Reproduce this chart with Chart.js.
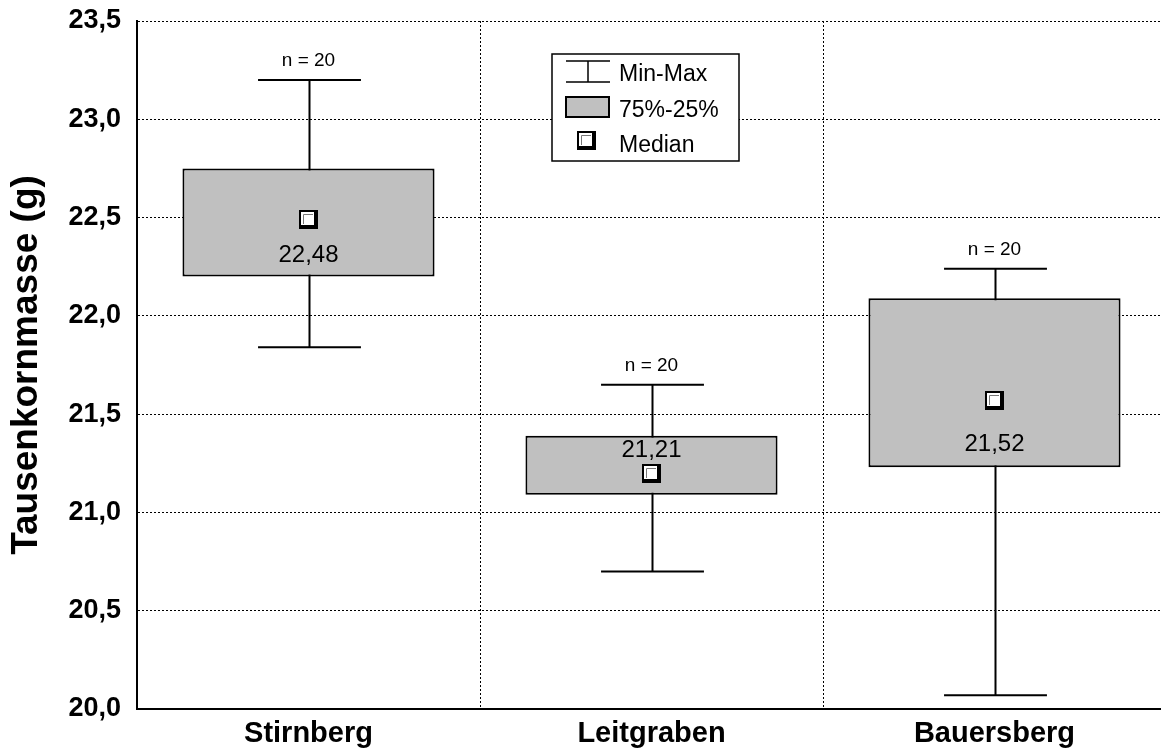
<!DOCTYPE html>
<html>
<head>
<meta charset="utf-8">
<script src="https://cdn.jsdelivr.net/npm/chart.js@4.4.1/dist/chart.umd.min.js"></script>
<style>
    html, body { margin: 0; padding: 0; background: #fff; overflow: hidden; }
    #wrap { position: absolute; left: 0; top: 0; width: 1180px; height: 753px; }
</style>
</head>
<body>
<div id="wrap"><canvas id="chart" width="1180" height="753"></canvas></div>
<script>
// Daten
const categories = ['Stirnberg', 'Leitgraben', 'Bauersberg'];
const minVals = [21.84, 20.70, 20.07];
const q1Vals = [22.20, 21.09, 21.23];
const medianVals = [22.49, 21.20, 21.57];
const q3Vals = [22.75, 21.39, 22.09];
const maxVals = [23.20, 21.65, 22.24];
const nLabels = ['n = 20', 'n = 20', 'n = 20'];
const medianLabels = ['22,48', '21,21', '21,52'];
const yMin = 20.0;
const yMax = 23.5;
const yStep = 0.5;

const FONT = '"Liberation Sans", Arial, sans-serif';

// Abstand des Median-Texts zum Marker (px)
const medianLabelDy = [36, -23, 44];

// Marker für den Median (Quadrat mit Schatten)
function drawMedianMarker(ctx, cx, cy) {
    const s = 19;
    const x0 = Math.round(cx - s / 2);
    const y0 = Math.round(cy - s / 2);
    ctx.save();
    ctx.fillStyle = '#000';
    ctx.fillRect(x0, y0, s, s);
    ctx.fillStyle = '#fff';
    ctx.fillRect(x0 + 2, y0 + 2, s - 6, s - 6);
    ctx.strokeStyle = '#777';
    ctx.lineWidth = 1;
    ctx.beginPath();
    ctx.moveTo(x0 + 4.5, y0 + s - 5);
    ctx.lineTo(x0 + 4.5, y0 + 4.5);
    ctx.lineTo(x0 + s - 5, y0 + 4.5);
    ctx.stroke();
    ctx.restore();
}

// Plugin: Whisker, Median, Beschriftungen und Legende
const boxPlugin = {
    id: 'boxPlugin',
    beforeDatasetsDraw(chart) {
        const ctx = chart.ctx;
        const xs = chart.scales.x;
        const ys = chart.scales.y;
        const catW = xs.getPixelForValue(1) - xs.getPixelForValue(0);
        ctx.save();
        ctx.strokeStyle = '#000';
        ctx.lineWidth = 2;
        categories.forEach((c, i) => {
            const cx = Math.round(xs.getPixelForValue(i)) + 0.5;
            const yMaxPx = ys.getPixelForValue(maxVals[i]);
            const yMinPx = ys.getPixelForValue(minVals[i]);
            ctx.beginPath();
            ctx.moveTo(cx, yMaxPx);
            ctx.lineTo(cx, yMinPx);
            ctx.moveTo(cx - catW * 0.15, yMaxPx);
            ctx.lineTo(cx + catW * 0.15, yMaxPx);
            ctx.moveTo(cx - catW * 0.15, yMinPx);
            ctx.lineTo(cx + catW * 0.15, yMinPx);
            ctx.stroke();
        });
        ctx.restore();
    },
    afterDatasetsDraw(chart) {
        const ctx = chart.ctx;
        const xs = chart.scales.x;
        const ys = chart.scales.y;
        ctx.save();
        ctx.fillStyle = '#000';
        ctx.textAlign = 'center';
        ctx.textBaseline = 'middle';
        categories.forEach((c, i) => {
            const cx = xs.getPixelForValue(i);
            const my = ys.getPixelForValue(medianVals[i]);
            drawMedianMarker(ctx, cx, my);
            ctx.font = '24px ' + FONT;
            ctx.fillText(medianLabels[i], cx, my + medianLabelDy[i]);
            ctx.font = '19px ' + FONT;
            ctx.fillText(nLabels[i], cx, ys.getPixelForValue(maxVals[i]) - 19);
        });
        ctx.restore();
    },
    afterDraw(chart) {
        // Legende innerhalb der Grafik
        const ctx = chart.ctx;
        ctx.save();
        ctx.fillStyle = '#fff';
        ctx.fillRect(552, 54, 187, 107);
        ctx.strokeStyle = '#000';
        ctx.lineWidth = 1.5;
        ctx.strokeRect(552, 54, 187, 107);

        ctx.lineWidth = 1.5;
        ctx.beginPath();
        ctx.moveTo(566, 61); ctx.lineTo(610, 61);
        ctx.moveTo(566, 82); ctx.lineTo(610, 82);
        ctx.moveTo(588, 61); ctx.lineTo(588, 82);
        ctx.stroke();

        ctx.fillStyle = '#c0c0c0';
        ctx.fillRect(566, 97, 43, 20);
        ctx.lineWidth = 2;
        ctx.strokeRect(566, 97, 43, 20);

        drawMedianMarker(ctx, 586.5, 140.5);

        ctx.fillStyle = '#000';
        ctx.font = '23px ' + FONT;
        ctx.textAlign = 'left';
        ctx.textBaseline = 'middle';
        ctx.fillText('Min-Max', 619, 75);
        ctx.fillText('75%-25%', 619, 111);
        ctx.fillText('Median', 619, 146);
        ctx.restore();
    }
};

new Chart(document.getElementById('chart').getContext('2d'), {
    type: 'bar',
    data: {
        labels: categories,
        datasets: [{
            label: '75%-25%',
            data: categories.map((c, i) => [q1Vals[i], q3Vals[i]]),
            backgroundColor: '#c0c0c0',
            borderColor: '#000',
            borderWidth: 2,
            borderSkipped: false,
            barPercentage: 0.735,
            categoryPercentage: 1.0
        }]
    },
    options: {
        responsive: false,
        animation: false,
        devicePixelRatio: 1,
        layout: { padding: { top: 21, right: 14, left: 0, bottom: 0 } },
        plugins: {
            legend: { display: false },
            tooltip: { enabled: false }
        },
        scales: {
            x: {
                offset: true,
                grid: {
                    offset: true,
                    drawTicks: false,
                    color: '#000',
                    lineWidth: 1
                },
                // dash gilt in v4 für die Gitterlinien, die Achse bleibt durchgezogen
                border: { display: true, color: '#000', width: 2, dash: [2, 2] },
                ticks: {
                    padding: 8,
                    color: '#000',
                    font: { family: FONT, size: 29, weight: 'bold' }
                },
                afterFit(scale) { scale.height = 44; }
            },
            y: {
                min: yMin,
                max: yMax,
                grid: {
                    drawTicks: false,
                    color: '#000',
                    lineWidth: 1
                },
                border: { display: true, color: '#000', width: 2, dash: [2, 2] },
                ticks: {
                    stepSize: yStep,
                    padding: 16,
                    color: '#000',
                    font: { family: FONT, size: 27, weight: 'bold' },
                    callback: v => v.toFixed(1).replace('.', ',')
                },
                title: {
                    display: true,
                    text: 'Tausenkornmasse (g)',
                    color: '#000',
                    padding: { top: 5, bottom: 0 },
                    font: { family: FONT, size: 37, weight: 'bold' }
                },
                afterFit(scale) {
                    scale.width = 137;
                    scale.paddingTop = 0;
                    scale.paddingBottom = 0;
                }
            }
        }
    },
    plugins: [boxPlugin]
});
</script>
</body>
</html>
